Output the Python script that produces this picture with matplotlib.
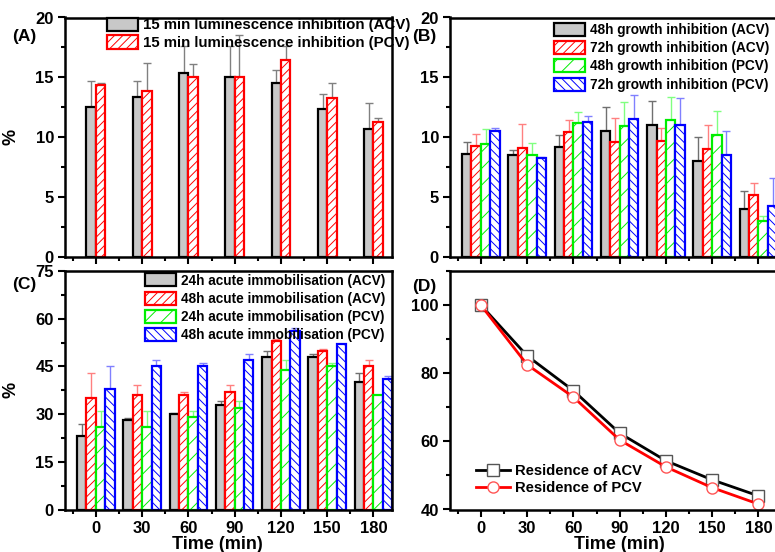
import numpy as np
import matplotlib.pyplot as plt
from matplotlib.ticker import MultipleLocator

plt.rcParams['font.family'] = ['Liberation Sans', 'DejaVu Sans']
plt.rcParams['font.weight'] = 'bold'
plt.rcParams['axes.labelweight'] = 'bold'
plt.rcParams['hatch.linewidth'] = 0.7

time = np.array([0, 30, 60, 90, 120, 150, 180])

# (A) luminescence inhibition
a_acv = [12.5, 13.4, 15.4, 15.0, 14.5, 12.4, 10.7]
a_acv_err = [2.2, 1.3, 2.2, 2.6, 1.1, 1.2, 2.2]
a_pcv = [14.35, 13.9, 15.0, 15.0, 16.45, 13.3, 11.3]
a_pcv_err = [0.15, 2.3, 1.15, 3.5, 1.15, 1.2, 0.3]

# (B) growth inhibition
b_acv48 = [8.6, 8.5, 9.2, 10.5, 11.0, 8.0, 4.0]
b_acv48_err = [1.0, 0.45, 1.0, 2.0, 2.0, 2.0, 1.5]
b_acv72 = [9.3, 9.1, 10.4, 9.6, 9.7, 9.0, 5.2]
b_acv72_err = [1.0, 2.0, 1.0, 2.0, 1.1, 2.0, 1.0]
b_pcv48 = [9.4, 8.5, 11.15, 10.95, 11.4, 10.2, 3.0]
b_pcv48_err = [1.25, 1.05, 1.0, 2.0, 2.0, 2.0, 0.45]
b_pcv72 = [10.5, 8.27, 11.3, 11.5, 11.0, 8.5, 4.3]
b_pcv72_err = [0.3, 0.06, 0.5, 2.0, 2.3, 2.0, 2.3]

# (C) acute immobilisation
c_acv24 = [23, 28, 30, 33, 48, 48, 40]
c_acv24_err = [4, 0.8, 0.3, 1, 2, 1, 3]
c_acv48 = [35, 36, 36, 37, 53, 50, 45]
c_acv48_err = [8, 3, 1, 2, 0.6, 0.4, 2]
c_pcv24 = [26, 26, 29, 32, 44, 45, 36]
c_pcv24_err = [5, 5, 2, 2, 3, 1, 0]
c_pcv48 = [38, 45, 45, 47, 56, 52, 41]
c_pcv48_err = [7, 2, 1, 2, 1, 0, 1]

# (D) residence
d_acv = [100, 85.1, 74.9, 62.4, 54.3, 48.7, 44.0]
d_pcv = [100, 82.5, 73.0, 60.4, 52.5, 46.4, 41.6]

styles = {
    'gray': dict(color='#c8c8c8', edgecolor='black', hatch=None, ecolor='#707070'),
    'red': dict(color='white', edgecolor='#ff0000', hatch='////', ecolor='#ff8080'),
    'green': dict(color='white', edgecolor='#00ee00', hatch='//', ecolor='#80ff80'),
    'blue': dict(color='white', edgecolor='#0000ff', hatch='\\\\\\\\', ecolor='#8080ff'),
}

fig = plt.figure(figsize=(7.75, 5.52), dpi=100)
W, H = 775, 552


def make_ax(left, top, bottom):
    return fig.add_axes([left / W, 1 - bottom / H, 327 / W, (bottom - top) / H])


axA = make_ax(65, 17.5, 257)
axB = make_ax(450, 17.5, 257)
axC = make_ax(65, 271, 509.5)
axD = make_ax(450, 271, 509.5)

bw = 6.1


def bars(ax, series, ecolor=None):
    n = len(series)
    handles = []
    for i, (vals, err, key, label) in enumerate(series):
        st = styles[key]
        x = time + (i - (n - 1) / 2) * bw
        h = ax.bar(x, vals, width=bw, color=st['color'], edgecolor=st['edgecolor'],
                   hatch=st['hatch'], linewidth=1.6, label=label, zorder=2)
        ax.errorbar(x, vals, yerr=[np.zeros(len(vals)), err], fmt='none',
                    ecolor=ecolor or st['ecolor'], elinewidth=1, capsize=3,
                    capthick=1, zorder=1)
        handles.append(h)
    return handles


hA = bars(axA, [(a_acv, a_acv_err, 'gray', '15 min luminescence inhibition (ACV)'),
                (a_pcv, a_pcv_err, 'red', '15 min luminescence inhibition (PCV)')],
          ecolor='#808080')
hB = bars(axB, [(b_acv48, b_acv48_err, 'gray', '48h growth inhibition (ACV)'),
                (b_acv72, b_acv72_err, 'red', '72h growth inhibition (ACV)'),
                (b_pcv48, b_pcv48_err, 'green', '48h growth inhibition (PCV)'),
                (b_pcv72, b_pcv72_err, 'blue', '72h growth inhibition (PCV)')])
hC = bars(axC, [(c_acv24, c_acv24_err, 'gray', '24h acute immobilisation (ACV)'),
                (c_acv48, c_acv48_err, 'red', '48h acute immobilisation (ACV)'),
                (c_pcv24, c_pcv24_err, 'green', '24h acute immobilisation (PCV)'),
                (c_pcv48, c_pcv48_err, 'blue', '48h acute immobilisation (PCV)')])

axD.plot(time, d_acv, color='black', lw=2, marker='s', ms=8, mfc='white',
         mec='#555555', mew=1, label='Residence of ACV')
axD.plot(time, d_pcv, color='#ff0000', lw=2, marker='o', ms=8, mfc='white',
         mec='#ff5555', mew=1, label='Residence of PCV')

leg_kw = dict(frameon=False, borderpad=0, borderaxespad=0, handlelength=2.3,
              handleheight=1.1, handletextpad=0.35, labelspacing=0.3,
              prop={'weight': 'bold', 'size': 9.8})
axA.legend(handles=hA, loc='upper left', bbox_to_anchor=(0.128, 1.0),
           frameon=False, borderpad=0, borderaxespad=0, handlelength=2.1,
           handleheight=1.0, handletextpad=0.3, labelspacing=0.2,
           prop={'weight': 'bold', 'size': 10.8})
axB.legend(handles=hB, loc='upper left', bbox_to_anchor=(0.318, 0.978), **leg_kw)
axC.legend(handles=hC, loc='upper left', bbox_to_anchor=(0.245, 0.99), **leg_kw)
axD.legend(loc='lower left', bbox_to_anchor=(0.04, 0.005), frameon=False,
           handlelength=2.3, handletextpad=0.3, labelspacing=0.22,
           prop={'weight': 'bold', 'size': 10.6})

for ax in (axA, axB, axC, axD):
    ax.set_xlim(-20, 192)
    ax.xaxis.set_major_locator(MultipleLocator(30))
    ax.xaxis.set_minor_locator(MultipleLocator(15))
    ax.tick_params(which='both', direction='out', top=False, right=False,
                   width=1.5, labelsize=12, pad=3)
    ax.tick_params(which='major', length=5)
    ax.tick_params(which='minor', length=3)
    for s in ax.spines.values():
        s.set_linewidth(1.8)

for ax in (axA, axB):
    ax.set_ylim(0, 20)
    ax.yaxis.set_major_locator(MultipleLocator(5))
    ax.yaxis.set_minor_locator(MultipleLocator(2.5))
    ax.tick_params(axis='x', labelbottom=False)

axC.set_ylim(0, 75)
axC.yaxis.set_major_locator(MultipleLocator(15))
axC.yaxis.set_minor_locator(MultipleLocator(7.5))

axD.set_ylim(40, 110)
axD.yaxis.set_major_locator(MultipleLocator(20))
axD.yaxis.set_minor_locator(MultipleLocator(10))

for ax in (axA, axC):
    ax.set_ylabel('%', fontsize=13)
    ax.yaxis.set_label_coords(-0.138, 0.5)

for ax, cx in ((axC, 0.465), (axD, 0.517)):
    ax.set_xlabel('Time (min)', fontsize=13)
    ax.xaxis.set_label_coords(cx, -0.112)

for lab, x, y in (('(A)', 24, 36), ('(B)', 424, 36), ('(C)', 24, 284), ('(D)', 424, 286)):
    fig.text(x / W, 1 - y / H, lab, fontsize=12.5, ha='center', va='center')

fig.savefig('out.png', dpi=100)
